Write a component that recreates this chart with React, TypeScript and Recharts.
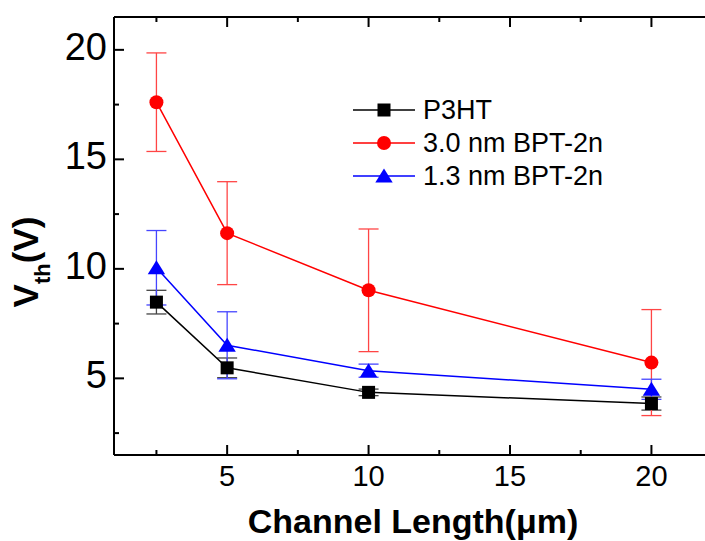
import React from 'react';
import { LineChart, Line, XAxis, YAxis, ErrorBar, Legend } from 'recharts';

// channel length (um) and threshold voltage (V)
const channelLength = [2.5, 5, 10, 20];

const p3ht = [8.48, 5.48, 4.36, 3.85];
const p3htErr = [0.54, 0.45, 0.15, 0.3];

const bpt30 = [17.61, 11.63, 9.02, 5.72];
const bpt30Err = [2.25, 2.35, 2.8, 2.42];

const bpt13 = [10.05, 6.51, 5.35, 4.5];
const bpt13Err = [1.7, 1.53, 0.3, 0.46];

const xTicks = [2.5, 5, 7.5, 10, 12.5, 15, 17.5, 20];
const yTicks = [2.5, 5, 7.5, 10, 12.5, 15, 17.5, 20];

const FONT = '"Liberation Sans", Arial, Helvetica, sans-serif';

type Shape = 'square' | 'circle' | 'triangle';

const series: Array<{ key: string; name: string; color: string; errColor: string; shape: Shape }> = [
  { key: 'p3ht', name: 'P3HT', color: '#000000', errColor: '#444444', shape: 'square' },
  { key: 'bpt30', name: '3.0 nm BPT-2n', color: '#ff0000', errColor: '#ff4545', shape: 'circle' },
  { key: 'bpt13', name: '1.3 nm BPT-2n', color: '#0000ff', errColor: '#4545ff', shape: 'triangle' },
];

const data = channelLength.map((x, i) => ({
  x,
  p3ht: p3ht[i],
  p3htErr: p3htErr[i],
  bpt30: bpt30[i],
  bpt30Err: bpt30Err[i],
  bpt13: bpt13[i],
  bpt13Err: bpt13Err[i],
}));

function Marker({ shape, cx, cy, color }: { shape: Shape; cx: number; cy: number; color: string }) {
  if (cx == null || cy == null) return null;
  if (shape === 'square') {
    return <rect x={cx - 6.5} y={cy - 6.5} width={13} height={13} fill={color} />;
  }
  if (shape === 'circle') {
    return <circle cx={cx} cy={cy} r={7} fill={color} />;
  }
  return (
    <polygon
      points={`${cx},${cy - 7.5} ${cx + 8.7},${cy + 6.5} ${cx - 8.7},${cy + 6.5}`}
      fill={color}
    />
  );
}

const isMajor = (v: number) => v % 5 === 0;

const BottomTick = ({ x, y, payload }: any) => (
  <g>
    <line x1={x} x2={x} y1={y} y2={y - (isMajor(payload.value) ? 10 : 5)} stroke="#000" strokeWidth={2} />
    {isMajor(payload.value) && (
      <text x={x} y={y + 31} textAnchor="middle" fontSize={29} fontFamily={FONT} fill="#000">
        {payload.value}
      </text>
    )}
  </g>
);

const TopTick = ({ x, y, payload }: any) => (
  <line x1={x} x2={x} y1={y} y2={y + (isMajor(payload.value) ? 10 : 5)} stroke="#000" strokeWidth={2} />
);

const LeftTick = ({ x, y, payload }: any) => (
  <g>
    <line x1={x} x2={x + (isMajor(payload.value) ? 10 : 5)} y1={y} y2={y} stroke="#000" strokeWidth={2} />
    {isMajor(payload.value) && (
      <text x={x - 7} y={y + 10} textAnchor="end" fontSize={38} fontFamily={FONT} fill="#000">
        {payload.value}
      </text>
    )}
  </g>
);

const RightTick = ({ x, y, payload }: any) => (
  <line x1={x} x2={x - (isMajor(payload.value) ? 10 : 5)} y1={y} y2={y} stroke="#000" strokeWidth={2} />
);

const XTitle = ({ viewBox }: any) => (
  <text
    x={viewBox.x + viewBox.width / 2 + 2}
    y={viewBox.y + 78}
    textAnchor="middle"
    fontSize={34}
    fontWeight="bold"
    fontFamily={FONT}
    fill="#000"
  >
    Channel Length(μm)
  </text>
);

const YTitle = ({ viewBox }: any) => {
  const cx = viewBox.x + 38;
  const cy = viewBox.y + viewBox.height / 2 + 26;
  return (
    <text
      x={cx}
      y={cy}
      transform={`rotate(-90, ${cx}, ${cy})`}
      textAnchor="middle"
      fontSize={35}
      fontWeight="bold"
      fontFamily={FONT}
      fill="#000"
    >
      V
      <tspan fontSize={22} dy={12}>th</tspan>
      <tspan dy={-12}>(V)</tspan>
    </text>
  );
};

const renderLegend = () => (
  <div style={{ fontFamily: FONT, fontSize: 27, color: '#000' }}>
    {series.map((s) => (
      <div key={s.key} style={{ display: 'flex', alignItems: 'center', height: 32.7 }}>
        <svg width={63} height={20} style={{ display: 'block' }}>
          <line x1={1} x2={63} y1={10} y2={10} stroke={s.color} strokeWidth={1.5} />
          <Marker shape={s.shape} cx={32} cy={10} color={s.color} />
        </svg>
        <span style={{ marginLeft: 8, whiteSpace: 'nowrap', lineHeight: '32px' }}>{s.name}</span>
      </div>
    ))}
  </div>
);

export default function App() {
  return (
    <div style={{ position: 'absolute', left: 0, top: 0, width: 705, height: 541, overflow: 'hidden', background: '#fff' }}>
      <LineChart width={709} height={541} data={data} margin={{ top: 16, right: 0, bottom: 0, left: 0 }}>
        <XAxis
          dataKey="x"
          type="number"
          domain={[1, 22]}
          ticks={xTicks}
          height={86}
          tickSize={0}
          tickMargin={0}
          tickLine={false}
          axisLine={{ stroke: '#000', strokeWidth: 2 }}
          tick={<BottomTick />}
          label={<XTitle />}
        />
        <XAxis
          xAxisId="top"
          orientation="top"
          dataKey="x"
          type="number"
          domain={[1, 22]}
          ticks={xTicks}
          height={1}
          tickSize={0}
          tickMargin={0}
          tickLine={false}
          axisLine={{ stroke: '#000', strokeWidth: 2 }}
          tick={<TopTick />}
        />
        <YAxis
          type="number"
          domain={[1.5, 21.5]}
          ticks={yTicks}
          width={114}
          tickSize={0}
          tickMargin={0}
          tickLine={false}
          axisLine={{ stroke: '#000', strokeWidth: 2 }}
          tick={<LeftTick />}
          label={<YTitle />}
        />
        <YAxis
          yAxisId="right"
          orientation="right"
          type="number"
          domain={[1.5, 21.5]}
          ticks={yTicks}
          width={1}
          tickSize={0}
          tickMargin={0}
          tickLine={false}
          axisLine={{ stroke: '#000', strokeWidth: 2 }}
          tick={<RightTick />}
        />
        <Legend
          layout="vertical"
          align="center"
          verticalAlign="middle"
          wrapperStyle={{ left: 352, top: 94, width: 'auto' }}
          content={renderLegend}
        />
        {series.map((s) => (
          <Line
            key={s.key}
            dataKey={s.key}
            name={s.name}
            type="linear"
            stroke={s.color}
            strokeWidth={1.5}
            isAnimationActive={false}
            activeDot={false}
            dot={(p: any) => <Marker key={`${s.key}-${p.index}`} shape={s.shape} cx={p.cx} cy={p.cy} color={s.color} />}
          >
            <ErrorBar dataKey={`${s.key}Err`} width={10} stroke={s.errColor} strokeWidth={1.3} direction="y" />
          </Line>
        ))}
      </LineChart>
    </div>
  );
}
